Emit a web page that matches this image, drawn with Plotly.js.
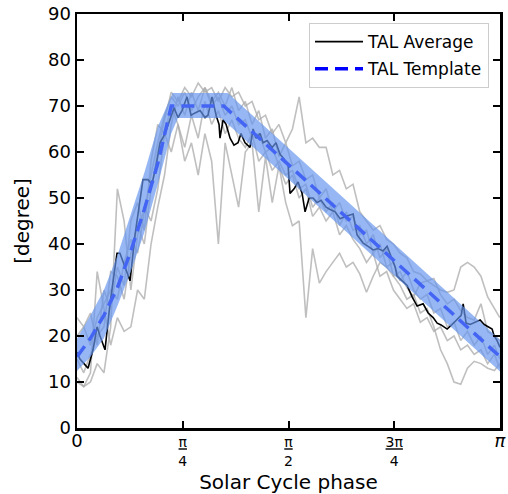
<!DOCTYPE html>
<html>
<head>
<meta charset="utf-8">
<script src="https://cdn.plot.ly/plotly-3.0.1.min.js"></script>
<style>html,body{margin:0;padding:0;background:#fff;}#chart{width:508px;height:494px;}</style>
</head>
<body>
<div id="chart"></div>
<script>
// ---- data ----
const avgPhase = [0.000,0.022,0.052,0.082,0.119,0.149,0.171,0.208,0.245,0.275,
  0.297,0.319,0.357,0.394,0.431,0.468,0.490,0.527,0.557,0.587,
  0.617,0.654,0.691,0.721,0.750,0.780,0.817,0.847,0.877,0.914,
  0.951,0.973,1.003,1.033,1.055,1.062,1.085,1.107,1.137,1.166,
  1.196,1.218,1.248,1.285,1.308,1.330,1.360,1.382,1.412,1.449,
  1.478,1.508,1.538,1.568,1.582,1.612,1.642,1.672,1.694,1.724,
  1.753,1.783,1.813,1.850,1.880,1.917,1.954,1.991,2.028,2.051,
  2.080,2.125,2.162,2.199,2.236,2.273,2.303,2.333,2.363,2.377,
  2.415,2.452,2.489,2.526,2.571,2.608,2.645,2.675,2.704,2.749,
  2.786,2.823,2.853,2.868,2.890,2.920,2.957,2.994,3.024,3.053,
  3.083,3.098,3.120,3.142];
const avgValue = [16.5,15,14,13,17,22,20,17,27,33,
  38,38,35,32,42,50,54,54,53,57,
  62,64,67,69.6,67.5,69,72,68,68.5,69,
  67.5,68,72,68,66,63,67,66,63,61.5,
  62,64,62,61,65,63,64,62,62.5,61,
  62,59.5,58.5,57,51,52,53.5,51,47,50,
  50,49,49.5,48,47.5,47,45.5,46,46.3,46.5,
  42,40.2,39.5,38.7,39,38.5,39.5,37.2,35,33,
  32,31,28.5,26.5,27,25,24,22.8,22.4,21.5,
  22.5,23.5,24.5,27,22.8,22.5,23,23.5,22.5,22,
  21.5,20,19,17.5];

const templatePhase = [0,0.1,0.2,0.3,0.4,0.5,0.6,0.7,1.09,3.1416];
const templateValue = [15.5,19.5,24.5,30.5,38.5,47.5,57.5,70,70,15.5];

// edges of the shaded template band
const bandUpperPhase = [0,0.1,0.2,0.3,0.4,0.5,0.6,0.71,1.12,3.1416];
const bandUpperValue = [19.4,24.5,30,37.5,46.5,55.5,65.5,72.8,72.8,19.2];
const bandLowerPhase = [0,0.1,0.2,0.3,0.4,0.5,0.6,0.7,0.75,1.07,3.1416];
const bandLowerValue = [12.4,15.5,19.5,26.5,34,42.5,53,64,67.4,67.4,12.3];

const cyclePhase = [0.00,0.05,0.10,0.15,0.20,0.25,0.30,0.35,0.40,0.45,
  0.50,0.55,0.60,0.65,0.70,0.75,0.80,0.85,0.90,0.95,
  1.00,1.05,1.10,1.15,1.20,1.25,1.30,1.35,1.40,1.45,
  1.50,1.55,1.60,1.65,1.70,1.75,1.80,1.85,1.90,1.95,
  2.00,2.05,2.10,2.15,2.20,2.25,2.30,2.35,2.40,2.45,
  2.50,2.55,2.60,2.65,2.70,2.75,2.80,2.85,2.90,2.95,
  3.00,3.05,3.10,3.14];
const cycleA = [15,12,16,20,22,34,33,28,38,44,
  40,52,60,67,73,71,74,72,75,73,
  74,71,74,72,73,70,71,67,68,64,
  66,62,65,72,62,63,61,61,55,56,
  52,53,47,45,43,44,41,40,38,37,
  34,33.5,32,32.5,29,27,28,25.5,24,23.5,
  27,21,20,19];
const cycleB = [20,22,18,24,27,30,28,36,41,38,
  47,55,62,68,72,70,73,69,72,74,
  70,72,68,70,66,67,63,64,60,61,
  57,49,44,45,24,39,31.5,34,36,38,
  35,36,33.5,29.5,33,36,35,33,34,30.5,
  28.5,31.5,32,31,30,29.5,30,35,36,35,
  33,28.5,26,24];
const cycleC = [24,22,25,18,30,26,35,31,45,49,
  43,58,66,64,70,66,61,68,63,71,
  66,69,64,67,63,61,64,58,60,56,
  58,55,56,52,53,48,50,47,49,44,
  47,43,44,40,42,37,39,33,31,28,
  29,25,26,22,17,14,10,9.5,13,14.5,
  14,13,12.5,14];
const cycleD = [11,9,10,14,12,22,52,45,30,42,
  48,45,52,64,60,66,58,62,55,64,
  58,40,62,55,48,60,62,47,59,49,
  57,53,55,50,52,46,48,45,47,42,
  44,41,39,36,38,33,34,30,28,26,
  27,23,24,21,22,19,20,17,18,16,
  17,14,16,13];
const cycleE = [10,9,12,34,26,18,24,21,22,30,
  28,40,48,55,66,72,68,73,69,74,
  71,73,70,74,69,71,66,69,63,65,
  59,62,57,58,54,55,50,52,47,49,
  45,46,42,43,38,40,35,36,32,34,
  30,28,29,25,26,22,23,19,21,18,
  20,16,18,15];

const tickPhase = [0, Math.PI/4, Math.PI/2, 3*Math.PI/4, Math.PI];
const tickText = ['<span style="font-size:18px">0</span>',
  '<u>π</u><br>4', '<u>π</u><br>2', '<u>3π</u><br>4',
  '<span style="font-size:18px"><i>π</i></span>'];
const yTicks = [0,10,20,30,40,50,60,70,80,90];

// ---- traces ----
const grayStyle = {color:'rgba(170,170,170,0.75)', width:1.6};
const traces = [];
[cycleA, cycleB, cycleC, cycleD, cycleE].forEach(v => {
  traces.push({x: cyclePhase, y: v, mode:'lines', line: grayStyle,
    showlegend:false, hoverinfo:'skip'});
});
traces.push({x: avgPhase, y: avgValue, mode:'lines', name:'TAL Average',
  legendgroup:'a', line:{color:'#000000', width:1.6}});
traces.push({x: templatePhase, y: templateValue, mode:'lines', name:'TAL Template',
  legendgroup:'b', line:{color:'#0000ff', width:3.5, dash:'13px,7px'}});
traces.push({
  x: bandUpperPhase.concat(bandLowerPhase.slice().reverse()),
  y: bandUpperValue.concat(bandLowerValue.slice().reverse()),
  mode:'lines', fill:'toself', fillcolor:'rgba(100,149,237,0.68)',
  line:{width:0, color:'rgba(0,0,0,0)'}, showlegend:false, hoverinfo:'skip'});

const fontFam = 'DejaVu Sans, sans-serif';
const layout = {
  width:508, height:494,
  margin:{l:77, r:8, t:14, b:66},
  paper_bgcolor:'#ffffff', plot_bgcolor:'#ffffff',
  font:{family:fontFam, color:'#000'},
  showlegend:true,
  legend:{x:0.974, xanchor:'right', y:0.978, yanchor:'top',
    font:{family:fontFam, size:17, color:'#000'},
    bgcolor:'rgba(255,255,255,0.8)', bordercolor:'#cccccc', borderwidth:1,
    tracegroupgap:2, traceorder:'grouped', itemwidth:48},
  xaxis:{range:[0, Math.PI], tickvals:tickPhase, ticktext:tickText,
    ticks:'inside', ticklen:7, tickwidth:2, tickcolor:'#000',
    showline:true, linewidth:2.5, linecolor:'#000', mirror:'allticks',
    showgrid:false, zeroline:false,
    tickfont:{family:fontFam, size:14, color:'#000'},
    title:{text:'Solar Cycle phase', font:{family:fontFam, size:20, color:'#000'}, standoff:10}},
  yaxis:{range:[0,90], tickvals:yTicks,
    ticks:'inside', ticklen:7, tickwidth:2, tickcolor:'#000',
    showline:true, linewidth:2.5, linecolor:'#000', mirror:'allticks',
    showgrid:false, zeroline:false,
    tickfont:{family:fontFam, size:18, color:'#000'},
    title:{text:'[degree]', font:{family:fontFam, size:20, color:'#000'}, standoff:13}}
};
Plotly.newPlot('chart', traces, layout, {staticPlot:true, displayModeBar:false});
</script>
</body>
</html>
